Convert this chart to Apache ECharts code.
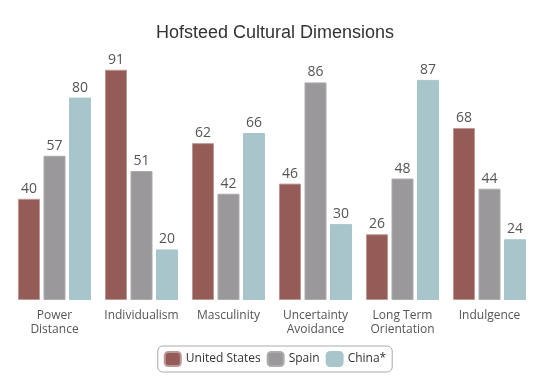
<!DOCTYPE html>
<html>
<head>
<meta charset="utf-8">
<script src="https://cdn.jsdelivr.net/npm/echarts@6/dist/echarts.min.js"></script>
<style>html,body{margin:0;padding:0;background:#fff}#c{width:550px;height:386px}</style>
</head>
<body>
<div id="c"></div>
<script>
var categories = ['Power Distance', 'Individualism', 'Masculinity', 'Uncertainty Avoidance', 'Long Term Orientation', 'Indulgence'];
var tickLabels = ['Power\nDistance', 'Individualism', 'Masculinity', 'Uncertainty\nAvoidance', 'Long Term\nOrientation', 'Indulgence'];
var seriesNames = ['United States', 'Spain', 'China*'];
var usValues = [40, 91, 62, 46, 26, 68];
var spainValues = [57, 51, 42, 86, 48, 44];
var chinaValues = [80, 20, 66, 30, 87, 24];

var colors = ['#955b57', '#9b989b', '#a8c5cc'];
var borders = ['#be9895', '#adabad', '#a8c5cc'];
var font = '"Open Sans", sans-serif';
var values = [usValues, spainValues, chinaValues];

var chart = echarts.init(document.getElementById('c'), null, {renderer: 'canvas'});
chart.setOption({
  animation: false,
  title: {
    text: 'Hofsteed Cultural Dimensions',
    left: 'center',
    top: 19,
    textStyle: {fontFamily: '"Liberation Sans", Arial, sans-serif', fontSize: 18, fontWeight: 'normal', color: '#333'}
  },
  legend: {
    bottom: 14,
    left: 'center',
    data: seriesNames,
    itemWidth: 16,
    itemHeight: 14,
    itemGap: 6,
    icon: 'roundRect',
    borderColor: '#aaa',
    borderWidth: 1,
    borderRadius: 5,
    padding: [5, 6, 5, 6],
    textStyle: {fontFamily: font, fontSize: 12, color: '#333'}
  },
  grid: {left: 11, width: 522, top: 47, bottom: 86, containLabel: false},
  xAxis: {
    type: 'category',
    data: categories,
    axisLine: {show: false},
    axisTick: {show: false},
    axisLabel: {
      margin: 9,
      interval: 0,
      fontFamily: font,
      fontSize: 12,
      lineHeight: 14,
      color: '#555',
      formatter: function (v, i) { return tickLabels[i]; }
    }
  },
  yAxis: {
    type: 'value', min: 0, max: 100, show: false,
    splitLine: {show: false}
  },
  series: seriesNames.map(function (n, k) {
    return {
      name: n,
      type: 'bar',
      data: values[k],
      barWidth: 22,
      barGap: '16%',
      itemStyle: {color: colors[k], borderColor: borders[k], borderWidth: 1},
      label: {show: true, position: 'top', distance: 3, fontFamily: font, fontSize: 14, color: '#555'}
    };
  })
});
</script>
</body>
</html>
